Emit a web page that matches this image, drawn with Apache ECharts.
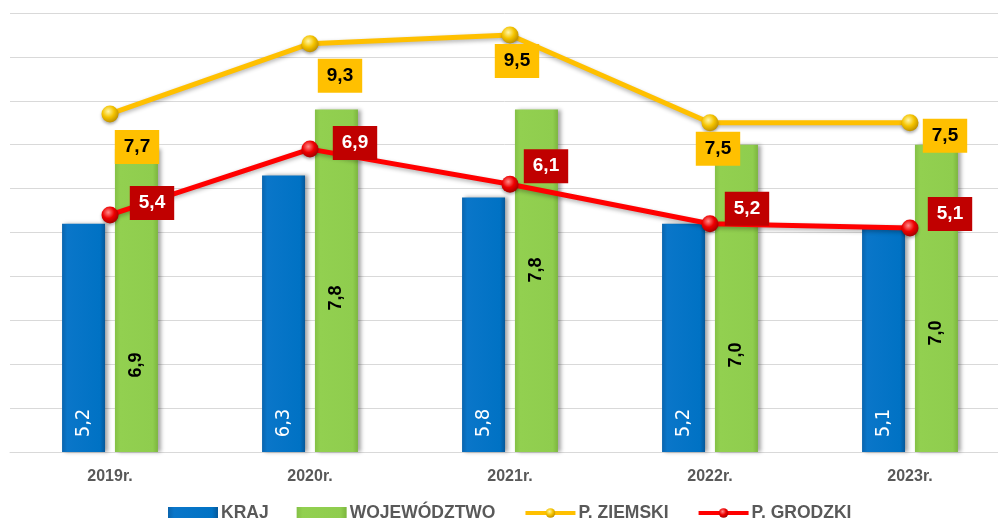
<!DOCTYPE html>
<html><head><meta charset="utf-8">
<script src="https://cdn.jsdelivr.net/npm/echarts@6/dist/echarts.min.js"></script>
<style>html,body{margin:0;padding:0;background:#fff}#c{width:998px;height:518px}</style>
</head><body><div id="c"></div>
<script>
// ---- data ----
const categories = ['2019r.', '2020r.', '2021r.', '2022r.', '2023r.'];
const kraj = [5.2, 6.3, 5.8, 5.2, 5.1];
const wojewodztwo = [6.9, 7.8, 7.8, 7.0, 7.0];
const ziemski = [7.7, 9.3, 9.5, 7.5, 7.5];
const grodzki = [5.4, 6.9, 6.1, 5.2, 5.1];
const seriesNames = ['KRAJ', 'WOJEWÓDZTWO', 'P. ZIEMSKI', 'P. GRODZKI'];

// ---- label placement (styling only) ----
const ziemskiLabelOffset = [[27, 33], [30, 32], [7, 26], [8, 26], [35, 13]];
const grodzkiLabelOffset = [[42, -12], [45, -6], [36, -18], [37, -15], [40, -14]];
const wojLabelLift = [87, 154, 182, 97, 119];
const krajLabelLift = 29;

const GRID_TOP = 13, GRID_BOTTOM = 66, H = 518, Y_MAX = 10;
const PX = (H - GRID_TOP - GRID_BOTTOM) / Y_MAX;
const fmt = v => v.toFixed(1).replace('.', ',');
const FONT = "'Liberation Sans Narrow','DejaVu Sans Condensed','Liberation Sans',Arial,sans-serif";
const FONTB = "'Liberation Sans','DejaVu Sans',Arial,sans-serif";

const blueFill = new echarts.graphic.LinearGradient(0, 0, 1, 0, [
  {offset: 0, color: '#0a64ad'}, {offset: 0.12, color: '#0a76c9'},
  {offset: 0.88, color: '#0072c4'}, {offset: 1, color: '#05589a'}]);
const greenFill = new echarts.graphic.LinearGradient(0, 0, 1, 0, [
  {offset: 0, color: '#84c046'}, {offset: 0.12, color: '#92d050'},
  {offset: 0.88, color: '#8fcd4e'}, {offset: 1, color: '#7cb63e'}]);
const yellowBall = new echarts.graphic.RadialGradient(0.4, 0.35, 0.7, [
  {offset: 0, color: '#fff6a8'}, {offset: 0.5, color: '#f5c400'}, {offset: 1, color: '#b88a00'}]);
const redBall = new echarts.graphic.RadialGradient(0.4, 0.35, 0.7, [
  {offset: 0, color: '#ff8a8a'}, {offset: 0.5, color: '#ee0000'}, {offset: 1, color: '#9a0000'}]);

const chart = echarts.init(document.getElementById('c'), null, {renderer: 'canvas'});
chart.setOption({
  animation: false,
  backgroundColor: '#ffffff',
  grid: {left: 10, right: -12, top: GRID_TOP, bottom: GRID_BOTTOM, containLabel: false, outerBoundsMode: 'none'},
  legend: {
    data: [
      {name: seriesNames[0], icon: 'rect'},
      {name: seriesNames[1], icon: 'rect'},
      {name: seriesNames[2], lineStyle: {width: 4}},
      {name: seriesNames[3], lineStyle: {width: 4}}
    ],
    left: 163, top: 499, itemWidth: 50, itemHeight: 12, itemGap: 28,
    textStyle: {color: '#595959', fontWeight: 'bold', fontSize: 17.5, fontFamily: FONTB, padding: [0, 0, 0, -2]}
  },
  xAxis: {
    type: 'category', data: categories, boundaryGap: true,
    axisTick: {show: false},
    axisLine: {lineStyle: {color: '#d9d9d9', width: 1}},
    axisLabel: {color: '#595959', fontWeight: 'bold', fontSize: 16, fontFamily: FONTB, margin: 17}
  },
  yAxis: {
    type: 'value', min: 0, max: Y_MAX, interval: 1,
    axisLabel: {show: false}, axisLine: {show: false}, axisTick: {show: false},
    splitLine: {lineStyle: {color: '#d9d9d9', width: 1}}
  },
  series: [
    {
      name: seriesNames[0], type: 'bar', barWidth: 43, barGap: '23%',
      itemStyle: {color: blueFill, shadowColor: 'rgba(0,0,0,0.35)', shadowBlur: 4, shadowOffsetX: 3},
      data: kraj.map(v => ({value: v, label: {position: ['50%', v * PX - krajLabelLift]}})),
      label: {show: true, rotate: 90, align: 'center', verticalAlign: 'middle',
        color: '#fff', fontSize: 20, fontFamily: FONT, formatter: p => fmt(p.value)}
    },
    {
      name: seriesNames[1], type: 'bar', barWidth: 43, barGap: '23%',
      itemStyle: {color: greenFill, shadowColor: 'rgba(0,0,0,0.35)', shadowBlur: 4, shadowOffsetX: 3},
      data: wojewodztwo.map((v, i) => ({value: v, label: {position: ['50%', v * PX - wojLabelLift[i]]}})),
      label: {show: true, rotate: 90, align: 'center', verticalAlign: 'middle',
        color: '#000', fontWeight: 'bold', fontSize: 18, fontFamily: FONTB, formatter: p => fmt(p.value)}
    },
    {
      name: seriesNames[2], type: 'line', z: 5,
      symbol: 'circle', symbolSize: 17,
      lineStyle: {color: '#ffc000', width: 5, shadowColor: 'rgba(0,0,0,0.3)', shadowBlur: 4, shadowOffsetY: 2},
      itemStyle: {color: yellowBall, borderWidth: 0, shadowColor: 'rgba(0,0,0,0.3)', shadowBlur: 3, shadowOffsetY: 2},
      data: ziemski.map((v, i) => ({value: v, label: {offset: ziemskiLabelOffset[i]}})),
      label: {show: true, position: 'inside', color: '#000', fontWeight: 'bold', fontSize: 19,
        fontFamily: FONTB, backgroundColor: '#ffc000', padding: [7, 9, 6, 9], lineHeight: 21,
        formatter: p => fmt(p.value)}
    },
    {
      name: seriesNames[3], type: 'line', z: 6,
      symbol: 'circle', symbolSize: 17,
      lineStyle: {color: '#ff0000', width: 5, shadowColor: 'rgba(0,0,0,0.3)', shadowBlur: 4, shadowOffsetY: 2},
      itemStyle: {color: redBall, borderWidth: 0, shadowColor: 'rgba(0,0,0,0.3)', shadowBlur: 3, shadowOffsetY: 2},
      data: grodzki.map((v, i) => ({value: v, label: {offset: grodzkiLabelOffset[i]}})),
      label: {show: true, position: 'inside', color: '#fff', fontWeight: 'bold', fontSize: 19,
        fontFamily: FONTB, backgroundColor: '#c00000', padding: [7, 9, 6, 9], lineHeight: 21,
        formatter: p => fmt(p.value)}
    }
  ]
});
</script></body></html>
